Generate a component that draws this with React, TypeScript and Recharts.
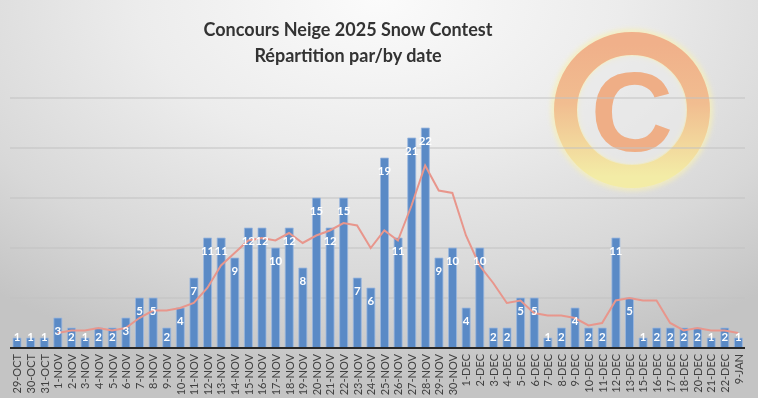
import React from 'react';
import { ComposedChart, Bar, Line, XAxis, YAxis, CartesianGrid } from 'recharts';

// Snow contest entries per day, with the 4-day moving average
const dates = [
  '29-OCT', '30-OCT', '31-OCT', '1-NOV', '2-NOV', '3-NOV', '4-NOV', '5-NOV', '6-NOV', '7-NOV',
  '8-NOV', '9-NOV', '10-NOV', '11-NOV', '12-NOV', '13-NOV', '14-NOV', '15-NOV', '16-NOV', '17-NOV',
  '18-NOV', '19-NOV', '20-NOV', '21-NOV', '22-NOV', '23-NOV', '24-NOV', '25-NOV', '26-NOV', '27-NOV',
  '28-NOV', '29-NOV', '30-NOV', '1-DEC', '2-DEC', '3-DEC', '4-DEC', '5-DEC', '6-DEC', '7-DEC',
  '8-DEC', '9-DEC', '10-DEC', '11-DEC', '12-DEC', '13-DEC', '15-DEC', '16-DEC', '17-DEC', '18-DEC',
  '20-DEC', '21-DEC', '22-DEC', '9-JAN',
];

const entries = [
  1, 1, 1, 3, 2, 1, 2, 2, 3, 5,
  5, 2, 4, 7, 11, 11, 9, 12, 12, 10,
  12, 8, 15, 12, 15, 7, 6, 19, 11, 21,
  22, 9, 10, 4, 10, 2, 2, 5, 5, 1,
  2, 4, 2, 2, 11, 5, 1, 2, 2, 2,
  2, 1, 2, 1,
];

const movingAvg = [
  null, null, null, 1.5, 1.75, 1.75, 2, 1.75, 2, 3,
  3.75, 3.75, 4, 4.5, 6, 8.25, 9.5, 10.75, 11, 10.75,
  11.5, 10.5, 11.25, 11.75, 12.5, 12.25, 10, 11.75, 10.75, 14.25,
  18.25, 15.75, 15.5, 11.25, 8.25, 6.5, 4.5, 4.75, 3.5, 3.25,
  3.25, 3, 2.25, 2.5, 4.75, 5, 4.75, 4.75, 2.5, 1.75,
  2, 1.75, 1.75, 1.5,
];

const yTicks = [0, 5, 10, 15, 20, 25];

const data = dates.map((d, i) => ({ date: d, count: entries[i], avg: movingAvg[i] }));

const W = 758;
const H = 398;

const DateTick = (props: any) => {
  const { x, y, payload } = props;
  return (
    <text
      transform={`translate(${x},${y - 2}) rotate(-90)`}
      textAnchor="end"
      dominantBaseline="central"
      fontSize={11}
      fontFamily="Lato, 'Open Sans', sans-serif"
      fill="#404040"
    >
      {payload.value}
    </text>
  );
};

const BarValue = (props: any) => {
  const { x, y, width, height, value } = props;
  const cy = Math.min(y + 12, y + height - 12);
  return (
    <text
      x={x + width / 2}
      y={cy}
      textAnchor="middle"
      dominantBaseline="central"
      fontSize={11.5}
      fontWeight="bold"
      fontFamily="Lato, 'Open Sans', sans-serif"
      fill="#ffffff"
    >
      {value}
    </text>
  );
};

function Watermark() {
  return (
    <svg width={200} height={200} style={{ position: 'absolute', left: 532, top: 10 }}>
      <defs>
        <linearGradient id="ring" x1="0" y1="0" x2="0" y2="1">
          <stop offset="0%" stopColor="#F0B08A" />
          <stop offset="45%" stopColor="#F1BD90" />
          <stop offset="100%" stopColor="#F3ECA6" />
        </linearGradient>
        <filter id="glow" x="-20%" y="-20%" width="140%" height="140%">
          <feGaussianBlur stdDeviation="2.5" />
        </filter>
      </defs>
      <circle cx={100} cy={100} r={67} fill="none" stroke="#F6EFB8" strokeWidth={28} filter="url(#glow)" opacity={0.8} />
      <circle cx={100} cy={100} r={54} fill="#e9e9e9" opacity={0.6} />
      <circle cx={100} cy={100} r={66.5} fill="none" stroke="url(#ring)" strokeWidth={23} />
      <text
        x={100}
        y={101}
        textAnchor="middle"
        dominantBaseline="central"
        fontSize={114}
        fontWeight="bold"
        fontFamily="'Liberation Sans', Arial, sans-serif"
        fill="#EFAE86"
      >
        C
      </text>
    </svg>
  );
}

export default function App() {
  return (
    <div
      style={{
        position: 'fixed',
        left: 0,
        top: 0,
        width: W,
        height: H,
        overflow: 'hidden',
        background:
          'radial-gradient(ellipse 80% 95% at 50% 0%, #fbfbfb 0%, #ececec 40%, #d8d8d8 75%, #c4c4c4 100%)',
      }}
    >
      <Watermark />
      <div
        style={{
          position: 'absolute',
          left: 0,
          width: 696,
          top: 16,
          textAlign: 'center',
          fontFamily: "Lato, 'Open Sans', sans-serif",
          fontWeight: 'bold',
          fontSize: 18,
          lineHeight: '26px',
          color: '#333333',
        }}
      >
        <div>Concours Neige 2025 Snow Contest</div>
        <div>Répartition par/by date</div>
      </div>
      <div style={{ position: 'absolute', left: 0, top: 0 }}>
        <ComposedChart
          width={W}
          height={H}
          data={data}
          margin={{ top: 98, right: 13, bottom: 0, left: 10 }}
        >
          <CartesianGrid vertical={false} stroke="#c2c2c2" strokeWidth={1.2} />
          <YAxis hide domain={[0, 25]} ticks={yTicks} />
          <XAxis
            dataKey="date"
            interval={0}
            height={50}
            tickLine={false}
            axisLine={{ stroke: '#262626', strokeWidth: 2 }}
            tick={<DateTick />}
          />
          <Bar
            dataKey="count"
            barSize={8}
            fill="#5A8AC6"
            stroke="#9CB8DE"
            strokeWidth={0.8}
            label={<BarValue />}
            isAnimationActive={false}
          />
          <Line
            dataKey="avg"
            type="linear"
            stroke="#E8968C"
            strokeWidth={2}
            dot={false}
            activeDot={false}
            isAnimationActive={false}
          />
        </ComposedChart>
      </div>
    </div>
  );
}
